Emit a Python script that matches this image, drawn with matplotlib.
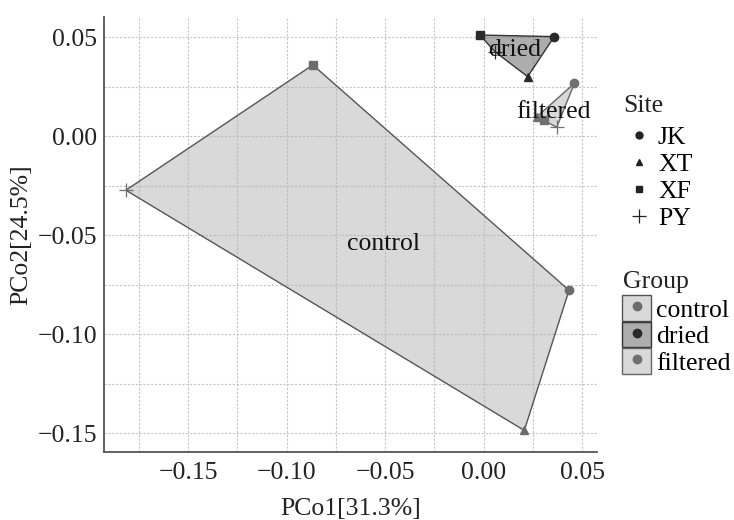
import numpy as np
import matplotlib
matplotlib.use("Agg")
import matplotlib.pyplot as plt
from matplotlib.patches import Patch, Polygon
from matplotlib.lines import Line2D
from matplotlib.ticker import MultipleLocator

plt.rcParams['font.family'] = ['Liberation Serif', 'DejaVu Serif']

# ---- data ----
groups = ["control", "dried", "filtered"]
sites = ["JK", "XT", "XF", "PY"]
pco1_control = [0.0433, 0.0206, -0.0867, -0.1816]
pco2_control = [-0.0778, -0.1485, 0.0359, -0.0273]
pco1_dried = [0.0358, 0.0223, -0.0019, 0.0057]
pco2_dried = [0.0502, 0.0300, 0.0510, 0.0426]
pco1_filtered = [0.0460, 0.0269, 0.0306, 0.0371]
pco2_filtered = [0.0266, 0.0097, 0.0081, 0.0045]
xlabel = "PCo1[31.3%]"
ylabel = "PCo2[24.5%]"

site_markers = {"JK": "o", "XT": "^", "XF": "s", "PY": "+"}
group_fill = {"control": ("#b4b4b4", 0.5), "dried": ("#6a6a6a", 0.55), "filtered": ("#b4b4b4", 0.5)}
group_edge = {"control": "#555555", "dried": "#333333", "filtered": "#666666"}
group_point = {"control": "#6c6c6c", "dried": "#2a2a2a", "filtered": "#707070"}

data = {
    "control": (pco1_control, pco2_control),
    "dried": (pco1_dried, pco2_dried),
    "filtered": (pco1_filtered, pco2_filtered),
}


def convex_hull(pts):
    pts = sorted(set(pts))
    if len(pts) <= 2:
        return pts

    def cross(o, a, b):
        return (a[0] - o[0]) * (b[1] - o[1]) - (a[1] - o[1]) * (b[0] - o[0])
    lower = []
    for p in pts:
        while len(lower) >= 2 and cross(lower[-2], lower[-1], p) <= 0:
            lower.pop()
        lower.append(p)
    upper = []
    for p in reversed(pts):
        while len(upper) >= 2 and cross(upper[-2], upper[-1], p) <= 0:
            upper.pop()
        upper.append(p)
    return lower[:-1] + upper[:-1]


W, H = 734, 520
fig = plt.figure(figsize=(W / 100, H / 100), dpi=100)
ax = fig.add_axes([104 / W, 1 - 452 / H, (597 - 104) / W, (452 - 17) / H])

FS = 18.5

for g in groups:
    xs, ys = data[g]
    hull = convex_hull(list(zip(xs, ys)))
    fc, a = group_fill[g]
    poly = Polygon(hull, closed=True, facecolor=fc, alpha=a, edgecolor='none', zorder=2)
    ax.add_patch(poly)
    poly2 = Polygon(hull, closed=True, facecolor='none', edgecolor=group_edge[g], lw=1.0, zorder=3)
    ax.add_patch(poly2)
    for s, x, y in zip(sites, xs, ys):
        m = site_markers[s]
        if m == "+":
            ax.plot([x], [y], marker=m, ms=10, mew=0.9, color=group_point[g], ls='none', zorder=4)
        else:
            ax.plot([x], [y], marker=m, ms=6, color=group_point[g], ls='none', zorder=4)
    ax.text(np.mean(xs), np.mean(ys), g, fontsize=FS, ha='center', va='center', color='#111111', zorder=5)

ax.set_xlim(-0.1927, 0.0575)
ax.set_ylim(-0.1594, 0.0601)
ax.xaxis.set_major_locator(MultipleLocator(0.05))
ax.yaxis.set_major_locator(MultipleLocator(0.05))
ax.xaxis.set_minor_locator(MultipleLocator(0.025))
ax.yaxis.set_minor_locator(MultipleLocator(0.025))
fmt = matplotlib.ticker.FuncFormatter(lambda v, p: f"{v:.2f}".replace("-", "\u2212"))
ax.xaxis.set_major_formatter(fmt)
ax.yaxis.set_major_formatter(fmt)
ax.grid(True, which='both', color='#c4c4c4', ls=(0, (2, 1.5)), lw=0.8, zorder=1)
ax.set_axisbelow(True)
ax.tick_params(which='both', length=0, labelsize=FS, colors='#222222')
ax.tick_params(axis='x', pad=7)
ax.tick_params(axis='y', pad=5)
for sp in ['top', 'right']:
    ax.spines[sp].set_visible(False)
for sp in ['left', 'bottom']:
    ax.spines[sp].set_color('#555555')
    ax.spines[sp].set_linewidth(1.3)

ax.set_xlabel(xlabel, fontsize=FS, color='#222222', labelpad=10)
ax.set_ylabel(ylabel, fontsize=FS, color='#222222', labelpad=4)

# Site legend
fig.text(623 / W, 1 - 106 / H, "Site", fontsize=FS, ha='left', va='center', color='#222222')
site_handles = []
for s in sites:
    m = site_markers[s]
    if m == "+":
        site_handles.append(Line2D([], [], marker=m, ms=10, mew=0.9, color='#222222', ls='none'))
    else:
        site_handles.append(Line2D([], [], marker=m, ms=5, color='#222222', ls='none'))
leg1 = fig.legend(site_handles, sites, loc='center left',
                  bbox_to_anchor=(622 / W, 1 - 178 / H), frameon=False,
                  fontsize=FS, handlelength=1.3, handletextpad=0.1,
                  labelspacing=0.16, borderaxespad=0, borderpad=0)

# Group legend
fig.text(623 / W, 1 - 282 / H, "Group", fontsize=FS, ha='left', va='center', color='#222222')
group_handles = []
for g in groups:
    fc, a = group_fill[g]
    p = Patch(facecolor=fc, alpha=a, edgecolor='none')
    pe = Patch(facecolor='none', edgecolor=group_edge[g], lw=1.0)
    dot = Line2D([], [], marker='o', ms=6, color=group_point[g], ls='none')
    group_handles.append((p, pe, dot))
leg2 = fig.legend(group_handles, groups, loc='center left',
                  bbox_to_anchor=(622 / W, 1 - 335 / H), frameon=False,
                  fontsize=FS, handlelength=1.13, handleheight=1.15,
                  handletextpad=0.2, labelspacing=0.0, borderaxespad=0, borderpad=0)

fig.savefig("out.png", dpi=100)
